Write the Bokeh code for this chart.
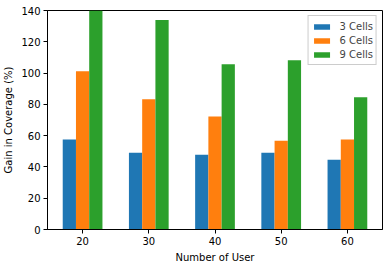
from bokeh.plotting import figure
from bokeh.models import FactorRange, ColumnDataSource, Legend, LegendItem, FixedTicker
from bokeh.transform import dodge
from bokeh.embed import file_html
from bokeh.resources import INLINE

users = ["20", "30", "40", "50", "60"]
cells3 = [57.5, 49.1, 47.8, 49.1, 44.6]
cells6 = [101.2, 83.2, 72.3, 56.8, 57.5]
cells9 = [141.0, 133.9, 105.6, 108.2, 84.5]
series_names = ["3 Cells", "6 Cells", "9 Cells"]
colors = ["#1f77b4", "#ff7f0e", "#2ca02c"]
y_ticks = [0, 20, 40, 60, 80, 100, 120, 140]

source = ColumnDataSource(dict(x=users, c3=cells3, c6=cells6, c9=cells9))

p = figure(width=389, height=266, output_backend="svg", toolbar_location=None,
           x_range=FactorRange(factors=users, range_padding=0.012),
           y_range=(0, 140),
           min_border_left=47, min_border_right=7, min_border_top=10, min_border_bottom=37)

renderers = []
for col, off, color in zip(["c3", "c6", "c9"], [-0.2, 0.0, 0.2], colors):
    r = p.vbar(x=dodge("x", off, range=p.x_range), top=col, width=0.2, bottom=0,
               source=source, fill_color=color, line_color=None)
    renderers.append(r)

font = "DejaVu Sans"
p.xgrid.visible = False
p.ygrid.visible = False
p.outline_line_color = "black"
p.outline_line_width = 1
p.outline_line_alpha = 1
p.background_fill_color = "white"
p.border_fill_color = "white"

p.yaxis.ticker = FixedTicker(ticks=y_ticks)
for ax in [p.xaxis[0], p.yaxis[0]]:
    ax.axis_line_color = "black"
    ax.major_tick_line_color = "black"
    ax.major_tick_out = 4
    ax.major_tick_in = 0
    ax.minor_tick_line_color = None
    ax.major_label_text_font = font
    ax.major_label_text_font_size = "10px"
    ax.major_label_text_color = "black"
    ax.axis_label_text_font = font
    ax.axis_label_text_font_size = "10px"
    ax.axis_label_text_font_style = "normal"
    ax.axis_label_text_color = "black"
    ax.major_label_standoff = 3
    ax.axis_label_standoff = 4

p.xaxis.axis_label = "Number of User"
p.yaxis.axis_label = "Gain in Coverage (%)"

legend = Legend(items=[LegendItem(label=n, renderers=[r]) for n, r in zip(series_names, renderers)],
                location="top_right", margin=5, padding=3, spacing=0,
                glyph_width=20, glyph_height=7, label_height=14, label_standoff=8,
                label_text_font=font, label_text_font_size="10px",
                border_line_color="#cccccc", border_line_alpha=1.0,
                background_fill_alpha=0.8)
p.add_layout(legend, "center")

open("out.html", "w").write(file_html(p, INLINE))
